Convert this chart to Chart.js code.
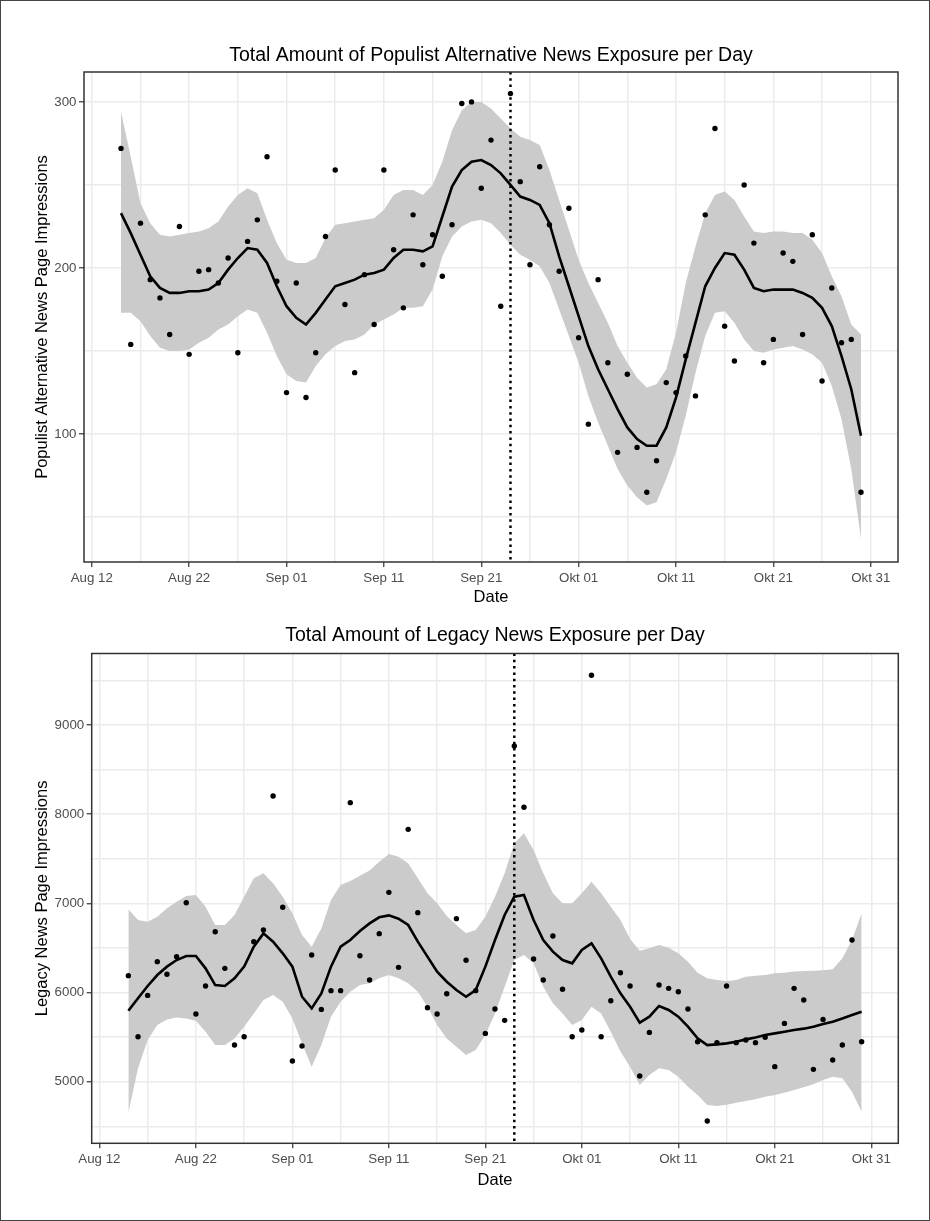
<!DOCTYPE html>
<html>
<head>
<meta charset="utf-8">
<script src="https://cdn.jsdelivr.net/npm/chart.js@4.4.1/dist/chart.umd.min.js"></script>
<style>
  html, body { margin: 0; padding: 0; background: #fff; }
  #page { position: relative; width: 930px; height: 1221px; overflow: hidden; }
  #page canvas { position: absolute; left: 0; }
  #top { top: 0; }
  #bottom { top: 610px; }
  #frame { position: absolute; left: 0; top: 0; width: 930px; height: 1221px; box-sizing: border-box; border: 1px solid #444; pointer-events: none; }
</style>
</head>
<body>
<div id="page">
  <canvas id="top" width="930" height="610"></canvas>
  <canvas id="bottom" width="930" height="611"></canvas>
  <div id="frame"></div>
</div>
<script>
// x = days since Aug 12; one observation per day from Aug 15 (day 3) to Oct 30 (day 79)
const firstDay = 3;
const eventDay = 43; // Sep 24, dotted line

const dateTickDays = [0, 10, 20, 30, 40, 50, 60, 70, 80];
const dateTickLabels = ['Aug 12', 'Aug 22', 'Sep 01', 'Sep 11', 'Sep 21', 'Okt 01', 'Okt 11', 'Okt 21', 'Okt 31'];
const dateGridDays = [0, 5, 10, 15, 20, 25, 30, 35, 40, 45, 50, 55, 60, 65, 70, 75, 80];

// populist alternative news
const populistTicks = [100, 200, 300];
const populistGrid = [50, 100, 150, 200, 250, 300];
const populistPoints = [
  272, 154, 227, 193, 182, 160, 225, 148, 198, 199,
  191, 206, 149, 216, 229, 267, 192, 125, 191, 122,
  149, 219, 259, 178, 137, 196, 166, 259, 211, 176,
  232, 202, 220, 195, 226, 299, 300, 248, 277, 177,
  305, 252, 202, 261, 226, 198, 236, 158, 106, 193,
  143, 89, 136, 92, 65, 84, 131, 125, 147, 123,
  232, 284, 165, 144, 250, 215, 143, 157, 209, 204,
  160, 220, 132, 188, 155, 157, 65
];
const populistFit = [
  233, 221, 208, 195, 188, 185, 185, 186, 186, 187,
  191, 199, 206, 212, 211, 203, 189, 177, 170, 166,
  173, 181, 189, 191, 193, 196, 197, 199, 206, 211,
  211, 210, 213, 231, 249, 259, 264, 265, 262, 257,
  250, 243, 241, 238, 227, 207, 189, 171, 153, 139,
  127, 115, 104, 97, 93, 93, 104, 122, 145, 167,
  189, 200, 209, 208, 199, 188, 186, 187, 187, 187,
  185, 182, 176, 165, 147, 127, 99
];
const populistUpper = [
  294, 267, 239, 227, 220, 219, 220, 221, 222, 224,
  228, 237, 244, 248, 245, 229, 215, 205, 203, 203,
  206, 218, 226, 227, 228, 229, 230, 235, 244, 247,
  247, 244, 250, 264, 283, 295, 300, 300, 296, 290,
  284, 279, 277, 274, 259, 241, 223, 205, 191, 179,
  167, 153, 143, 134, 128, 130, 139, 161, 191, 213,
  233, 244, 246, 241, 231, 222, 221, 222, 222, 221,
  221, 217, 209, 195, 183, 166, 160
];
const populistLower = [
  173, 173, 168, 159, 152, 150, 150, 151, 155, 158,
  163, 166, 171, 175, 173, 161, 147, 136, 132, 131,
  141, 148, 153, 156, 157, 160, 166, 169, 172, 176,
  176, 177, 187, 207, 219, 225, 228, 229, 227, 221,
  214, 208, 205, 201, 191, 175, 159, 143, 123, 107,
  93, 79, 69, 62, 57, 59, 73, 89, 111, 137,
  159, 173, 174, 167, 157, 150, 149, 151, 152, 153,
  151, 148, 143, 129, 109, 79, 37
];

// legacy news
const legacyTicks = [5000, 6000, 7000, 8000, 9000];
const legacyGrid = [4500, 5000, 5500, 6000, 6500, 7000, 7500, 8000, 8500, 9000, 9500];
const legacyPoints = [
  6190, 5506, 5969, 6347, 6205, 6403, 7008, 5760, 6074, 6683,
  6272, 5412, 5506, 6571, 6702, 8204, 6956, 5233, 5401, 6421,
  5812, 6022, 6022, 8129, 6414, 6141, 6661, 7124, 6283, 7830,
  6896, 5831, 5760, 5988, 6829, 6362, 6022, 5543, 5816, 5689,
  8765, 8077, 6377, 6141, 6634, 6037, 5506, 5581, 9557, 5506,
  5909, 6223, 6074, 5065, 5554, 6085, 6048, 6010, 5816, 5450,
  4561, 5439, 6074, 5439, 5469, 5439, 5500, 5170, 5655, 6048,
  5917, 5140, 5700, 5244, 5412, 6590, 5450
];
const legacyFit = [
  5797, 5936, 6074, 6197, 6291, 6365, 6410, 6410, 6272, 6085,
  6074, 6160, 6291, 6515, 6664, 6571, 6440, 6291, 5954, 5823,
  5992, 6291, 6515, 6590, 6690, 6776, 6844, 6866, 6829, 6758,
  6571, 6403, 6235, 6122, 6029, 5954, 6029, 6291, 6590, 6870,
  7075, 7094, 6814, 6590, 6459, 6365, 6328, 6478, 6552, 6384,
  6179, 5992, 5842, 5663, 5730, 5850, 5805, 5730, 5618, 5487,
  5412, 5420, 5431, 5450, 5476, 5498, 5525, 5543, 5562, 5581,
  5596, 5618, 5648, 5674, 5711, 5749, 5786
];
const legacyUpper = [
  6933, 6814, 6795, 6851, 6945, 7019, 7083, 7094, 6963, 6758,
  6758, 6870, 7075, 7281, 7337, 7225, 7075, 6889, 6646, 6515,
  6720, 7038, 7206, 7250, 7310, 7370, 7468, 7554, 7524, 7449,
  7281, 7113, 7001, 6859, 6758, 6665, 6702, 6851, 7075, 7337,
  7673, 7785, 7599, 7337, 7113, 7001, 7001, 7113, 7244, 7113,
  6963, 6814, 6600, 6470, 6496, 6534, 6504, 6440, 6347, 6223,
  6160, 6141, 6130, 6141, 6179, 6190, 6197, 6216, 6223, 6238,
  6242, 6246, 6250, 6261, 6384, 6590, 6889
];
const legacyLower = [
  4654, 5151, 5468, 5637, 5700, 5722, 5711, 5685, 5562, 5412,
  5412, 5487, 5618, 5767, 5917, 5973, 5898, 5711, 5431, 5169,
  5412, 5730, 5898, 6010, 6085, 6104, 6160, 6197, 6160, 6104,
  6010, 5842, 5637, 5487, 5394, 5300, 5356, 5525, 5767, 6066,
  6365, 6421, 6328, 6066, 5880, 5767, 5637, 5693, 5842, 5767,
  5560, 5340, 5170, 4964, 5077, 5151, 5133, 5058, 4946, 4852,
  4740, 4729, 4744, 4766, 4785, 4804, 4834, 4852, 4878, 4908,
  4938, 4972, 5020, 5058, 5039, 4890, 4665
];

Chart.defaults.font.family = "'Liberation Sans', Arial, sans-serif";
Chart.defaults.color = '#4d4d4d';

const series = values => values.map((v, i) => ({ x: firstDay + i, y: v }));

// dotted event line + panel border
const panelExtras = {
  id: 'panelExtras',
  afterDatasetsDraw(chart) {
    const { ctx, chartArea: a, scales: { x } } = chart;
    const ex = x.getPixelForValue(eventDay);
    ctx.save();
    ctx.strokeStyle = '#000';
    ctx.lineWidth = 2.5;
    ctx.setLineDash([2.5, 3.8]);
    ctx.beginPath();
    ctx.moveTo(ex, a.top);
    ctx.lineTo(ex, a.bottom);
    ctx.stroke();
    ctx.setLineDash([]);
    ctx.strokeStyle = '#333';
    ctx.lineWidth = 1.5;
    ctx.strokeRect(a.left, a.top, a.right - a.left, a.bottom - a.top);
    ctx.restore();
  }
};

function makeChart(id, o) {
  return new Chart(document.getElementById(id), {
    type: 'line',
    data: {
      datasets: [
        { data: series(o.fit), borderColor: '#000', borderWidth: 2.6, pointRadius: 0, tension: 0, order: 0 },
        { data: series(o.points), showLine: false, pointRadius: 2.7, pointBackgroundColor: '#000', pointBorderWidth: 0, order: 1 },
        { data: series(o.upper), borderColor: 'rgba(0,0,0,0)', borderWidth: 0, pointRadius: 0, fill: '+1', backgroundColor: '#cbcbcb', order: 2 },
        { data: series(o.lower), borderColor: 'rgba(0,0,0,0)', borderWidth: 0, pointRadius: 0, fill: false, order: 3 }
      ]
    },
    options: {
      responsive: false,
      animation: false,
      devicePixelRatio: 1,
      layout: { padding: { left: 0, right: o.padRight, top: 0, bottom: 0 } },
      plugins: {
        legend: { display: false },
        tooltip: { enabled: false },
        title: {
          display: true, text: o.title, color: '#000', fullSize: false,
          font: { size: 19.5, weight: 'normal' }, padding: o.titlePad
        }
      },
      scales: {
        x: {
          type: 'linear', min: -0.8, max: 82.8,
          afterBuildTicks: axis => { axis.ticks = dateGridDays.map(v => ({ value: v })); },
          afterFit: axis => { axis.height = o.xAxisHeight; },
          border: { display: false },
          grid: {
            color: '#ebebeb', lineWidth: 1.5, tickLength: 5, tickWidth: 1.2,
            tickColor: c => (c.tick && dateTickDays.includes(c.tick.value)) ? '#333' : 'rgba(0,0,0,0)'
          },
          ticks: {
            autoSkip: false, maxRotation: 0, minRotation: 0, padding: 3,
            font: { size: 13.3 }, color: '#4d4d4d',
            callback: v => { const i = dateTickDays.indexOf(v); return i < 0 ? '' : dateTickLabels[i]; }
          },
          title: { display: true, text: 'Date', color: '#000', font: { size: 16.5 }, padding: { top: 0, bottom: o.xTitlePad } }
        },
        y: {
          type: 'linear', min: o.yMin, max: o.yMax,
          afterBuildTicks: axis => { axis.ticks = o.yGrid.map(v => ({ value: v })); },
          afterFit: axis => { axis.width = o.yAxisWidth; },
          border: { display: false },
          grid: {
            color: '#ebebeb', lineWidth: 1.5, tickLength: 5, tickWidth: 1.2,
            tickColor: c => (c.tick && o.yTicks.includes(c.tick.value)) ? '#333' : 'rgba(0,0,0,0)'
          },
          ticks: {
            autoSkip: false, padding: 2.5, font: { size: 13.3 }, color: '#4d4d4d',
            callback: v => o.yTicks.includes(v) ? String(v) : ''
          },
          title: { display: true, text: o.yTitle, color: '#000', font: { size: 16.5 }, padding: { top: 33, bottom: 0 } }
        }
      }
    },
    plugins: [panelExtras]
  });
}

makeChart('top', {
  title: 'Total Amount of Populist Alternative News Exposure per Day',
  yTitle: 'Populist Alternative News Page Impressions',
  points: populistPoints, fit: populistFit, upper: populistUpper, lower: populistLower,
  yMin: 23, yMax: 318, yGrid: populistGrid, yTicks: populistTicks,
  yAxisWidth: 84, xAxisHeight: 48, xTitlePad: 3, padRight: 32,
  titlePad: { top: 44.3, bottom: 4.3 }
});

makeChart('bottom', {
  title: 'Total Amount of Legacy News Exposure per Day',
  yTitle: 'Legacy News Page Impressions',
  points: legacyPoints, fit: legacyFit, upper: legacyUpper, lower: legacyLower,
  yMin: 4311, yMax: 9801, yGrid: legacyGrid, yTicks: legacyTicks,
  yAxisWidth: 91.7, xAxisHeight: 77.7, xTitlePad: 31.1, padRight: 31.7,
  titlePad: { top: 14.3, bottom: 5.8 }
});
</script>
</body>
</html>
